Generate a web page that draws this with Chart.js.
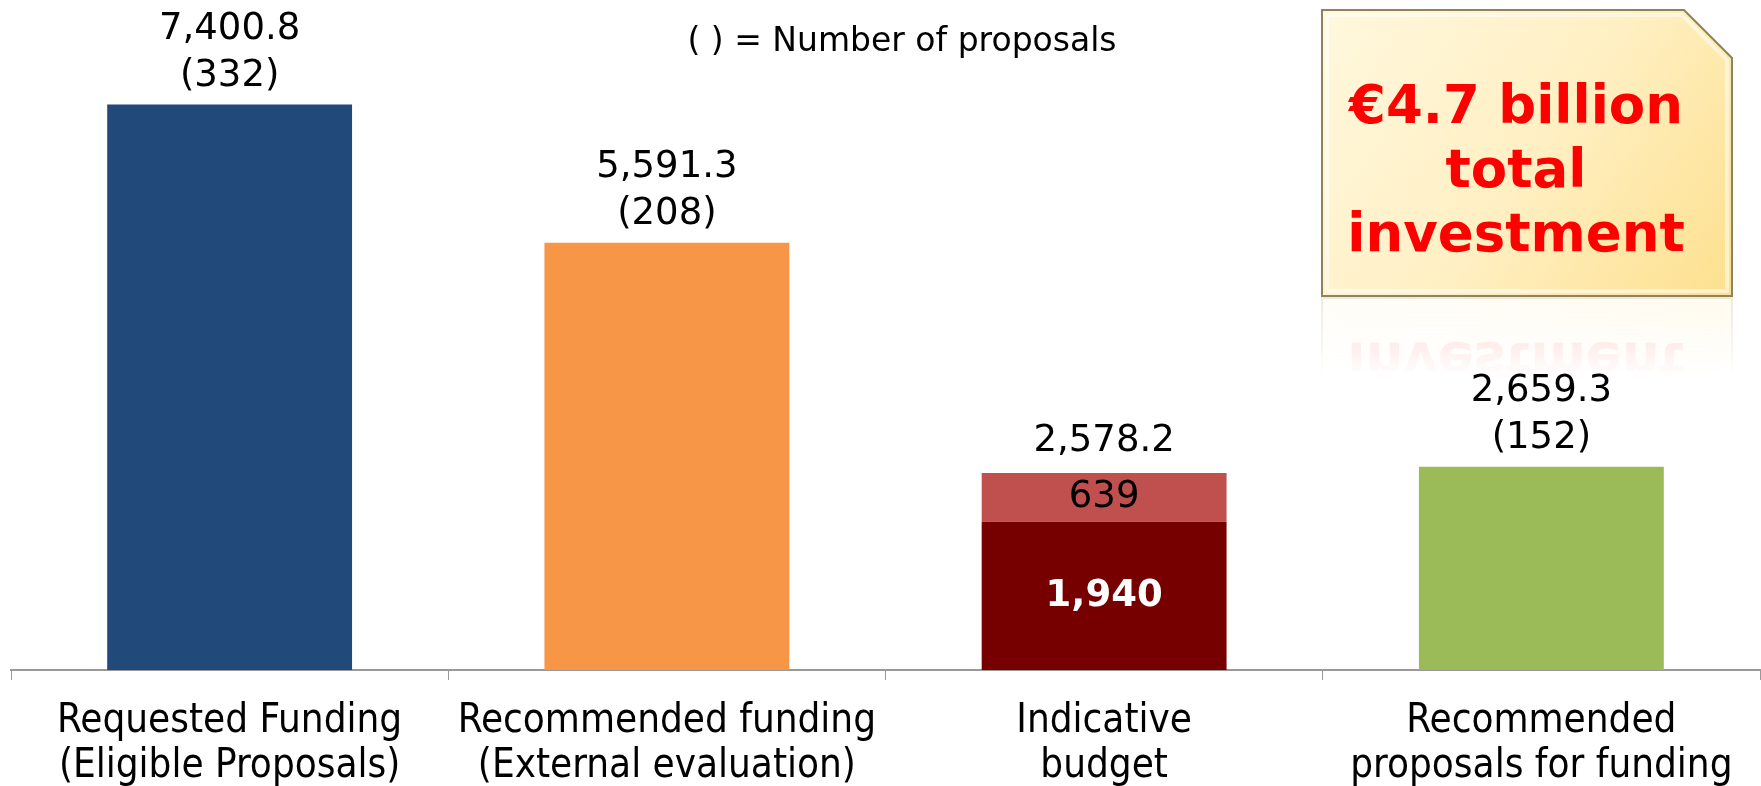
<!DOCTYPE html>
<html>
<head>
<meta charset="utf-8">
<script src="https://cdn.jsdelivr.net/npm/chart.js@4.4.1/dist/chart.umd.min.js"></script>
<style>
  html, body { margin: 0; padding: 0; background: #fff; }
  #wrap { width: 1761px; height: 786px; position: relative; }
</style>
</head>
<body>
<div id="wrap"><canvas id="myChart" width="1761" height="786"></canvas></div>
<script>
// chart values
const categories = [
  ['Requested Funding', '(Eligible Proposals)'],
  ['Recommended funding', '(External evaluation)'],
  ['Indicative', 'budget'],
  ['Recommended', 'proposals for funding']
];
const baseValues = [7400.8, 5591.3, 1940, 2659.3];
const extraValues = [null, null, 639, null];
const totals = [7400.8, 5591.3, 2578.2, 2659.3];
const proposals = [332, 208, null, 152];
const baseColors = ['#214A7B', '#F79646', '#760000', '#9BBB59'];
const extraColors = [null, null, '#C0504D', null];
const note = '( ) = Number of proposals';
const boxLines = ['€4.7 billion', 'total', 'investment'];

const fmt1 = v => v.toLocaleString('en-US', { minimumFractionDigits: 1, maximumFractionDigits: 1 });
const fmt0 = v => v.toLocaleString('en-US', { maximumFractionDigits: 0 });

// gold call-out box with a faded reflection
function boxPath(ctx, x0, y0, x1, y1, cut) {
  ctx.beginPath();
  ctx.moveTo(x0, y0);
  ctx.lineTo(x1 - cut, y0);
  ctx.lineTo(x1, y0 + cut);
  ctx.lineTo(x1, y1);
  ctx.lineTo(x0, y1);
  ctx.closePath();
}
function drawBox(ctx) {
  const x0 = 1322, y0 = 10, x1 = 1732, y1 = 296;
  const g = ctx.createLinearGradient(x0, y0, x1, y1);
  g.addColorStop(0, '#FFF8DE');
  g.addColorStop(0.5, '#FFF0C4');
  g.addColorStop(1, '#FDE08E');
  boxPath(ctx, x0, y0, x1, y1, 48);
  ctx.fillStyle = g;
  ctx.fill();
  ctx.lineWidth = 2;
  ctx.strokeStyle = '#8E835F';
  ctx.stroke();
  boxPath(ctx, x0 + 5, y0 + 5, x1 - 5, y1 - 5, 45);
  ctx.lineWidth = 4;
  ctx.strokeStyle = 'rgba(255,255,255,0.5)';
  ctx.stroke();
  ctx.fillStyle = '#FF0000';
  ctx.textAlign = 'center';
  ctx.textBaseline = 'alphabetic';
  ctx.font = 'bold 53px "DejaVu Sans", Verdana, sans-serif';
  boxLines.forEach((s, i) => ctx.fillText(s, 1516, 123 + i * 64));
}
const callout = {
  id: 'callout',
  afterDatasetsDraw(chart) {
    const ctx = chart.ctx;
    ctx.save();
    ctx.beginPath();
    ctx.rect(1315, 297, 425, 80);
    ctx.clip();
    ctx.translate(0, 2 * 297);
    ctx.scale(1, -1);
    ctx.globalAlpha = 0.3;
    drawBox(ctx);
    ctx.restore();
    ctx.save();
    const w = ctx.createLinearGradient(0, 297, 0, 377);
    w.addColorStop(0, 'rgba(255,255,255,0.45)');
    w.addColorStop(1, 'rgba(255,255,255,1)');
    ctx.fillStyle = w;
    ctx.fillRect(1315, 297, 425, 81);
    drawBox(ctx);
    ctx.restore();
  }
};

// labels above / inside the bars
const barLabels = {
  id: 'barLabels',
  afterDatasetsDraw(chart) {
    const ctx = chart.ctx;
    const m0 = chart.getDatasetMeta(0);
    const m1 = chart.getDatasetMeta(1);
    ctx.save();
    ctx.textAlign = 'center';
    ctx.textBaseline = 'middle';
    ctx.font = '37px "DejaVu Sans", Verdana, sans-serif';
    totals.forEach((t, i) => {
      const x = m0.data[i].x;
      let top = m0.data[i].y;
      if (extraValues[i] != null) top = m1.data[i].y;
      ctx.fillStyle = '#000';
      if (proposals[i] != null) {
        ctx.fillText(fmt1(t), x, top - 75);
        ctx.fillText('(' + proposals[i] + ')', x, top - 28);
      } else {
        ctx.fillText(fmt1(t), x, top - 32);
      }
      if (extraValues[i] != null) {
        const b1 = m1.data[i];
        ctx.fillText(fmt0(extraValues[i]), x, (b1.y + b1.base) / 2);
        const b0 = m0.data[i];
        ctx.fillStyle = '#fff';
        ctx.font = 'bold 37px "DejaVu Sans", Verdana, sans-serif';
        ctx.fillText(fmt0(baseValues[i]), x, (b0.y + b0.base) / 2);
        ctx.font = '37px "DejaVu Sans", Verdana, sans-serif';
      }
    });
    // note
    ctx.fillStyle = '#000';
    ctx.font = '33px "DejaVu Sans", Verdana, sans-serif';
    ctx.fillText(note, 902, 42);
    ctx.restore();
  }
};

new Chart(document.getElementById('myChart'), {
  type: 'bar',
  data: {
    labels: categories,
    datasets: [
      { data: baseValues, backgroundColor: baseColors, stack: 's' },
      { data: extraValues, backgroundColor: extraColors, stack: 's' }
    ]
  },
  options: {
    responsive: false,
    animation: false,
    layout: { padding: { left: 11, right: 1, top: 0, bottom: 0 } },
    plugins: { legend: { display: false }, tooltip: { enabled: false } },
    datasets: { bar: { categoryPercentage: 1, barPercentage: 0.56 } },
    scales: {
      x: {
        stacked: true,
        afterFit(scale) { scale.height = 116; },
        border: { display: true, color: '#999', width: 2 },
        grid: { offset: true, drawOnChartArea: false, drawTicks: true, tickLength: 10, color: '#999' },
        ticks: {
          color: '#000',
          padding: 19,
          maxRotation: 0,
          autoSkip: false,
          font: { family: '"DejaVu Sans Condensed", "DejaVu Sans", sans-serif', size: 40, lineHeight: 1.125 }
        }
      },
      y: { stacked: true, display: false, min: 0, max: 8770 }
    }
  },
  plugins: [callout, barLabels]
});
</script>
</body>
</html>
